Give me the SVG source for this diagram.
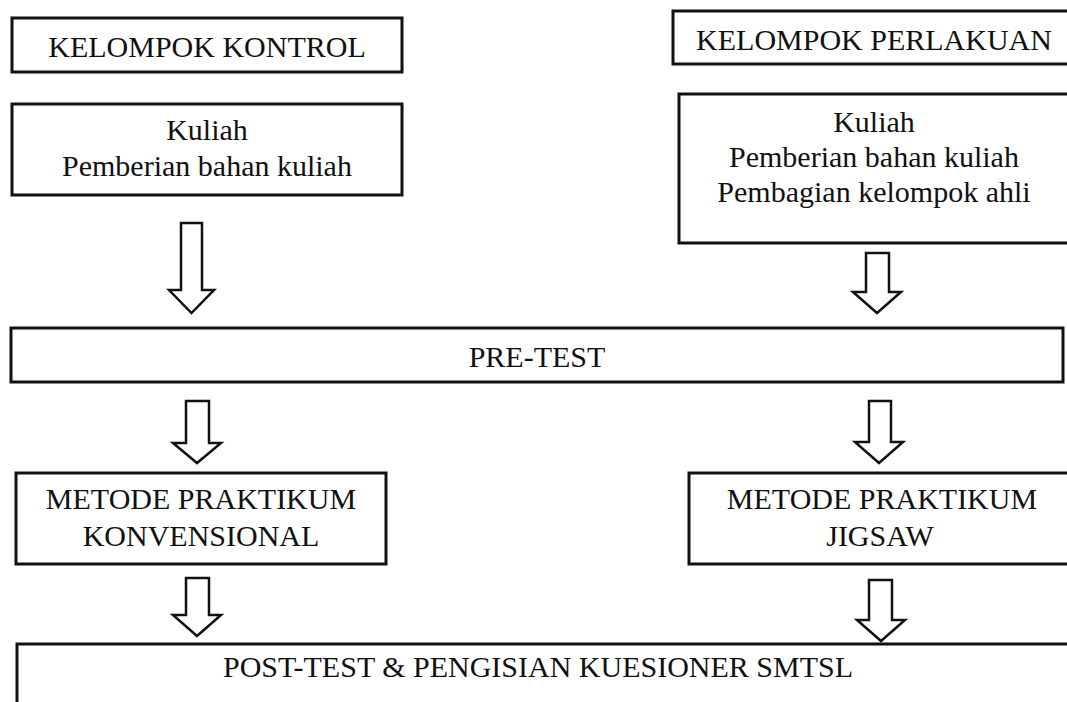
<svg xmlns="http://www.w3.org/2000/svg" width="1067" height="702" viewBox="0 0 1067 702">
<style>
.box{fill:#fff;stroke:#111;stroke-width:3}
.arr{fill:#fff;stroke:#111;stroke-width:2.5;stroke-linejoin:miter}
text{font-family:"Liberation Serif","Times New Roman",serif;font-size:30px;fill:#111;text-anchor:middle}
</style>
<rect width="1067" height="702" fill="#fff"/>
<g id="kontrol"><rect class="box" x="12" y="18" width="390" height="54"/><text x="207" y="57">KELOMPOK KONTROL</text></g>
<g id="perlakuan"><rect class="box" x="673" y="11" width="400" height="53"/><text x="874" y="50">KELOMPOK PERLAKUAN</text></g>
<g id="kuliah-kontrol"><rect class="box" x="12" y="104" width="390" height="91"/><text x="207" y="140">Kuliah</text><text x="207" y="176">Pemberian bahan kuliah</text></g>
<g id="kuliah-perlakuan"><rect class="box" x="679" y="94" width="395" height="149"/><text x="874" y="132">Kuliah</text><text x="874" y="167">Pemberian bahan kuliah</text><text x="874" y="202">Pembagian kelompok ahli</text></g>
<g id="pretest"><rect class="box" x="11" y="328" width="1052" height="54"/><text x="537" y="367">PRE-TEST</text></g>
<g id="konvensional"><rect class="box" x="16" y="473" width="370" height="91"/><text x="201" y="509">METODE PRAKTIKUM</text><text x="201" y="546">KONVENSIONAL</text></g>
<g id="jigsaw"><rect class="box" x="689" y="473" width="390" height="91"/><text x="882" y="509">METODE PRAKTIKUM</text><text x="880" y="546">JIGSAW</text></g>
<g id="posttest"><rect class="box" x="17" y="644" width="1060" height="70"/><text x="538" y="677">POST-TEST &amp; PENGISIAN KUESIONER SMTSL</text></g>
<g id="connectors">
<polygon class="arr" points="181,223 202,223 202,290 214,290 191.5,313 169,290 181,290"/>
<polygon class="arr" points="866,253 889,253 889,292 901,292 877,313 853,292 866,292"/>
<polygon class="arr" points="186,401 209,401 209,443 221,443 197,463 173,443 186,443"/>
<polygon class="arr" points="869,401 891,401 891,442 903,442 879,463 855,442 869,442"/>
<polygon class="arr" points="186,578 209,578 209,615 221,615 197,636 173,615 186,615"/>
<polygon class="arr" points="869,580 892,580 892,620 905,620 881,641 857,620 869,620"/>
</g>
</svg>
